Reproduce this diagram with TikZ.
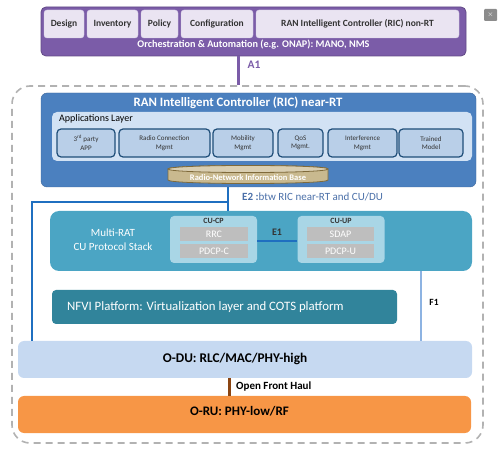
\documentclass[tikz,border=0pt]{standalone}
\usepackage{fontspec}
\setmainfont{Carlito}
\usepackage{tikz}
\usetikzlibrary{positioning,shapes,fit}
\definecolor{orchpurple}{HTML}{7B5CA8}
\definecolor{toollav}{HTML}{EAE4F2}
\definecolor{ricblue}{HTML}{4B80BF}
\definecolor{layerblue}{HTML}{D2E2F4}
\definecolor{appblue}{HTML}{B9CFE8}
\definecolor{appedge}{HTML}{1F4E79}
\definecolor{cuteal}{HTML}{4BA5C4}
\definecolor{partteal}{HTML}{A9D6E6}
\definecolor{funcgray}{HTML}{BEBEBE}
\definecolor{nfviteal}{HTML}{31849B}
\definecolor{dublue}{HTML}{C6D9F1}
\definecolor{ruorange}{HTML}{F79646}
\definecolor{linkblue}{HTML}{1F6FC0}
\definecolor{fblue}{HTML}{8DB3E2}
\definecolor{e2text}{HTML}{4A6FA8}
\definecolor{haulbrown}{HTML}{8B4513}
\definecolor{rnibtan}{HTML}{C9B98F}
\definecolor{rnibedge}{HTML}{7F6A3A}
\tikzset {
    style Top/.style={
        fill=orchpurple,
        draw=orchpurple!80!black,
        thick,
        rectangle, % Set the shape as a rectangle
        rounded corners=5pt,
        inner sep=0pt,
    },
    style Tool/.style={
        fill=toollav,
        draw=toollav!85!orchpurple,
        rectangle, % Set the shape as a rectangle
        rounded corners=3pt,
        minimum height=28pt,
        inner sep=0pt,
        font=\bfseries\fontsize{9.5}{11}\selectfont,
        text=black!80,
        align=center,
    },
    style Ric/.style={
        fill=ricblue,
        draw=ricblue!80!black,
        rectangle, % Set the shape as a rectangle
        rounded corners=6pt,
        inner sep=0pt,
    },
    style App/.style={
        fill=appblue,
        draw=appedge,
        line width=1.2pt,
        rectangle, % Set the shape as a rectangle
        rounded corners=4pt,
        minimum height=28pt,
        inner sep=0pt,
        font=\fontsize{7}{8.5}\selectfont,
        text=black!80,
        align=center,
    },
    style Part/.style={
        fill=partteal,
        rectangle, % Set the shape as a rectangle
        rounded corners=4pt,
        minimum width=87pt,
        minimum height=47pt,
        inner sep=0pt,
    },
    style Func/.style={
        fill=funcgray,
        rectangle, % Set the shape as a rectangle
        minimum width=68pt,
        minimum height=14pt,
        inner sep=0pt,
        text=white,
        font=\fontsize{10}{11}\selectfont,
    },
    style Layer/.style={
        rectangle, % Set the shape as a rectangle
        rounded corners=6pt,
        inner sep=0pt,
        minimum width=454pt,
        minimum height=37pt,
    },
    style Link/.style={
        draw=linkblue,
        line width=2pt,
    },
}

\begin{document}
\begin{tikzpicture}
[x=1pt, y=-1pt, font=\fontsize{9}{11}\selectfont]
\useasboundingbox (0,0) rectangle (504,449);

% orchestration on top
\node[style Top, minimum width=425pt, minimum height=49pt] at (253.5, 31.5) (orch) {};
\node[style Tool, minimum width=40pt] at (64, 24) (design) {Design};
\node[style Tool, minimum width=51pt] at (112.5, 24) (inventory) {Inventory};
\node[style Tool, minimum width=37pt] at (159.5, 24) (policy) {Policy};
\node[style Tool, minimum width=72pt] at (217, 24) (config) {Configuration};
\node[style Tool, minimum width=203pt] at (357.5, 24) (nonrt) {RAN Intelligent Controller (RIC) non-RT};
\node[text=white, font=\bfseries\fontsize{10.2}{12}\selectfont] at (253.5, 44.5) (orchText) {Orchestration \& Automation (e.g. ONAP): MANO, NMS};

\node[fill=black!45, rounded corners=1pt, minimum width=13pt, minimum height=12pt, inner sep=0pt, text=white, font=\fontsize{7}{7}\selectfont] at (490.5, 15) (close) {$\times$};

% the big dashed frame
\node[draw=black!30, line width=1.6pt, dash pattern=on 7pt off 5pt, rounded corners=18pt, minimum width=471pt, minimum height=357pt] at (247.5, 264.5) (frame) {};

\coordinate (a1x) at (238, 0);
\draw[draw=orchpurple, line width=3pt] (orch.south -| a1x) -- (frame.north -| a1x);
\node[text=orchpurple, font=\bfseries\fontsize{11.5}{13}\selectfont] at (254, 65) (a1) {A1};

% near-RT RIC
\node[style Ric, minimum width=435pt, minimum height=94pt] at (258.5, 140) (ric) {};
\node[text=white, font=\bfseries\fontsize{12.8}{15}\selectfont] at (238, 103) (ricText) {RAN Intelligent Controller (RIC) near-RT};
\node[fill=layerblue, rounded corners=5pt, minimum width=420pt, minimum height=49pt] at (262, 136.5) (apps) {};
\node[anchor=west, inner sep=0pt, font=\fontsize{10}{12}\selectfont] at (59, 118.5) (appsText) {Applications Layer};

\node[style App, minimum width=58pt] at (86, 143) (third) {3\textsuperscript{rd} party\\APP};
\node[style App, minimum width=91pt] at (164.5, 143) (radio) {Radio Connection\\Mgmt};
\node[style App, minimum width=60pt] at (243, 143) (mobility) {Mobility\\Mgmt};
\node[style App, minimum width=45pt] at (300.5, 143) (qos) {QoS\\Mgmt.};
\node[style App, minimum width=69pt] at (362.5, 143) (interf) {Interference\\Mgmt};
\node[style App, minimum width=64pt] at (431, 143) (trained) {Trained\\Model};

% radio-network information base
\fill[rnibtan, draw=rnibedge, thick] (168,169) -- (168,180) .. controls (168,184.7) and (328,184.7) .. (328,180) -- (328,169) .. controls (328,164.3) and (168,164.3) .. (168,169) -- cycle;
\draw[rnibedge, thick, fill=rnibtan!70!white] (168,169) .. controls (168,173.7) and (328,173.7) .. (328,169) .. controls (328,164.3) and (168,164.3) .. (168,169) -- cycle;
\node[text=white, font=\bfseries\fontsize{8.5}{10}\selectfont] at (248, 177.5) (rnib) {Radio-Network Information Base};

% CU
\node[fill=cuteal, rounded corners=9pt, minimum width=422pt, minimum height=60pt] at (261, 241) (cu) {};
\node[text=white, align=center, font=\fontsize{11}{14}\selectfont] at (113, 240) (cuText) {Multi-RAT\\CU Protocol Stack};

\node[style Part] at (213.5, 239.5) (cucp) {};
\node[font=\bfseries\fontsize{8}{9}\selectfont, text=black!80] at (213.5, 221) (cucpText) {CU-CP};
\node[style Func] at (214, 234) (rrc) {RRC};
\node[style Func] at (214, 251) (pdcpc) {PDCP-C};

\node[style Part] at (341, 239.5) (cuup) {};
\node[font=\bfseries\fontsize{8}{9}\selectfont, text=black!80] at (341, 221) (cuupText) {CU-UP};
\node[style Func, minimum width=67pt] at (340.5, 234) (sdap) {SDAP};
\node[style Func, minimum width=67pt] at (340.5, 251) (pdcpu) {PDCP-U};

\coordinate (e1y) at (0, 241);
\draw[style Link] (cucp.east |- e1y) -- (cuup.west |- e1y);
\node[font=\bfseries\fontsize{10}{11}\selectfont, text=black!80] at (277, 232) (e1) {E1};

% NFVI
\node[fill=nfviteal, rounded corners=4pt, minimum width=345pt, minimum height=34pt] at (224.5, 307) (nfvi) {};
\node[anchor=west, inner sep=0pt, text=white, font=\fontsize{12.8}{14}\selectfont] at (67, 307.5) (nfviText) {NFVI Platform: Virtualization layer and COTS platform};

% DU and RU
\node[style Layer, fill=dublue] at (245, 359.5) (odu) {};
\node[font=\bfseries\fontsize{13.3}{15}\selectfont] at (235, 358.5) (oduText) {O-DU: RLC/MAC/PHY-high};
\node[style Layer, fill=ruorange, minimum width=453pt] at (244.5, 414.5) (oru) {};
\node[font=\bfseries\fontsize{13}{15}\selectfont] at (239.5, 411.5) (oruText) {O-RU: PHY-low/RF};

% E2 and F1
\coordinate (e2x) at (228, 0);
\coordinate (e2knee) at (228, 202);
\coordinate (e2left) at (32, 202);
\draw[style Link] (ric.south -| e2x) -- (cu.north -| e2x);
\draw[style Link] (e2knee) -- (e2left) -- (e2left |- odu.north);
\node[anchor=west, inner sep=0pt, text=e2text, font=\fontsize{11}{13}\selectfont] at (242, 197) (e2) {\textbf{E2 :}btw RIC near-RT and CU/DU};

\coordinate (f1x) at (421, 0);
\draw[draw=fblue, line width=2pt] (cu.south -| f1x) -- (odu.north -| f1x);
\node[font=\bfseries\fontsize{9.5}{11}\selectfont] at (434, 302) (f1) {F1};

\coordinate (fhx) at (229, 0);
\draw[draw=haulbrown, line width=3pt] (odu.south -| fhx) -- (oru.north -| fhx);
\node[anchor=west, inner sep=0pt, font=\bfseries\fontsize{11}{13}\selectfont] at (236, 386.5) (fh) {Open Front Haul};
\end{tikzpicture}
\end{document}
